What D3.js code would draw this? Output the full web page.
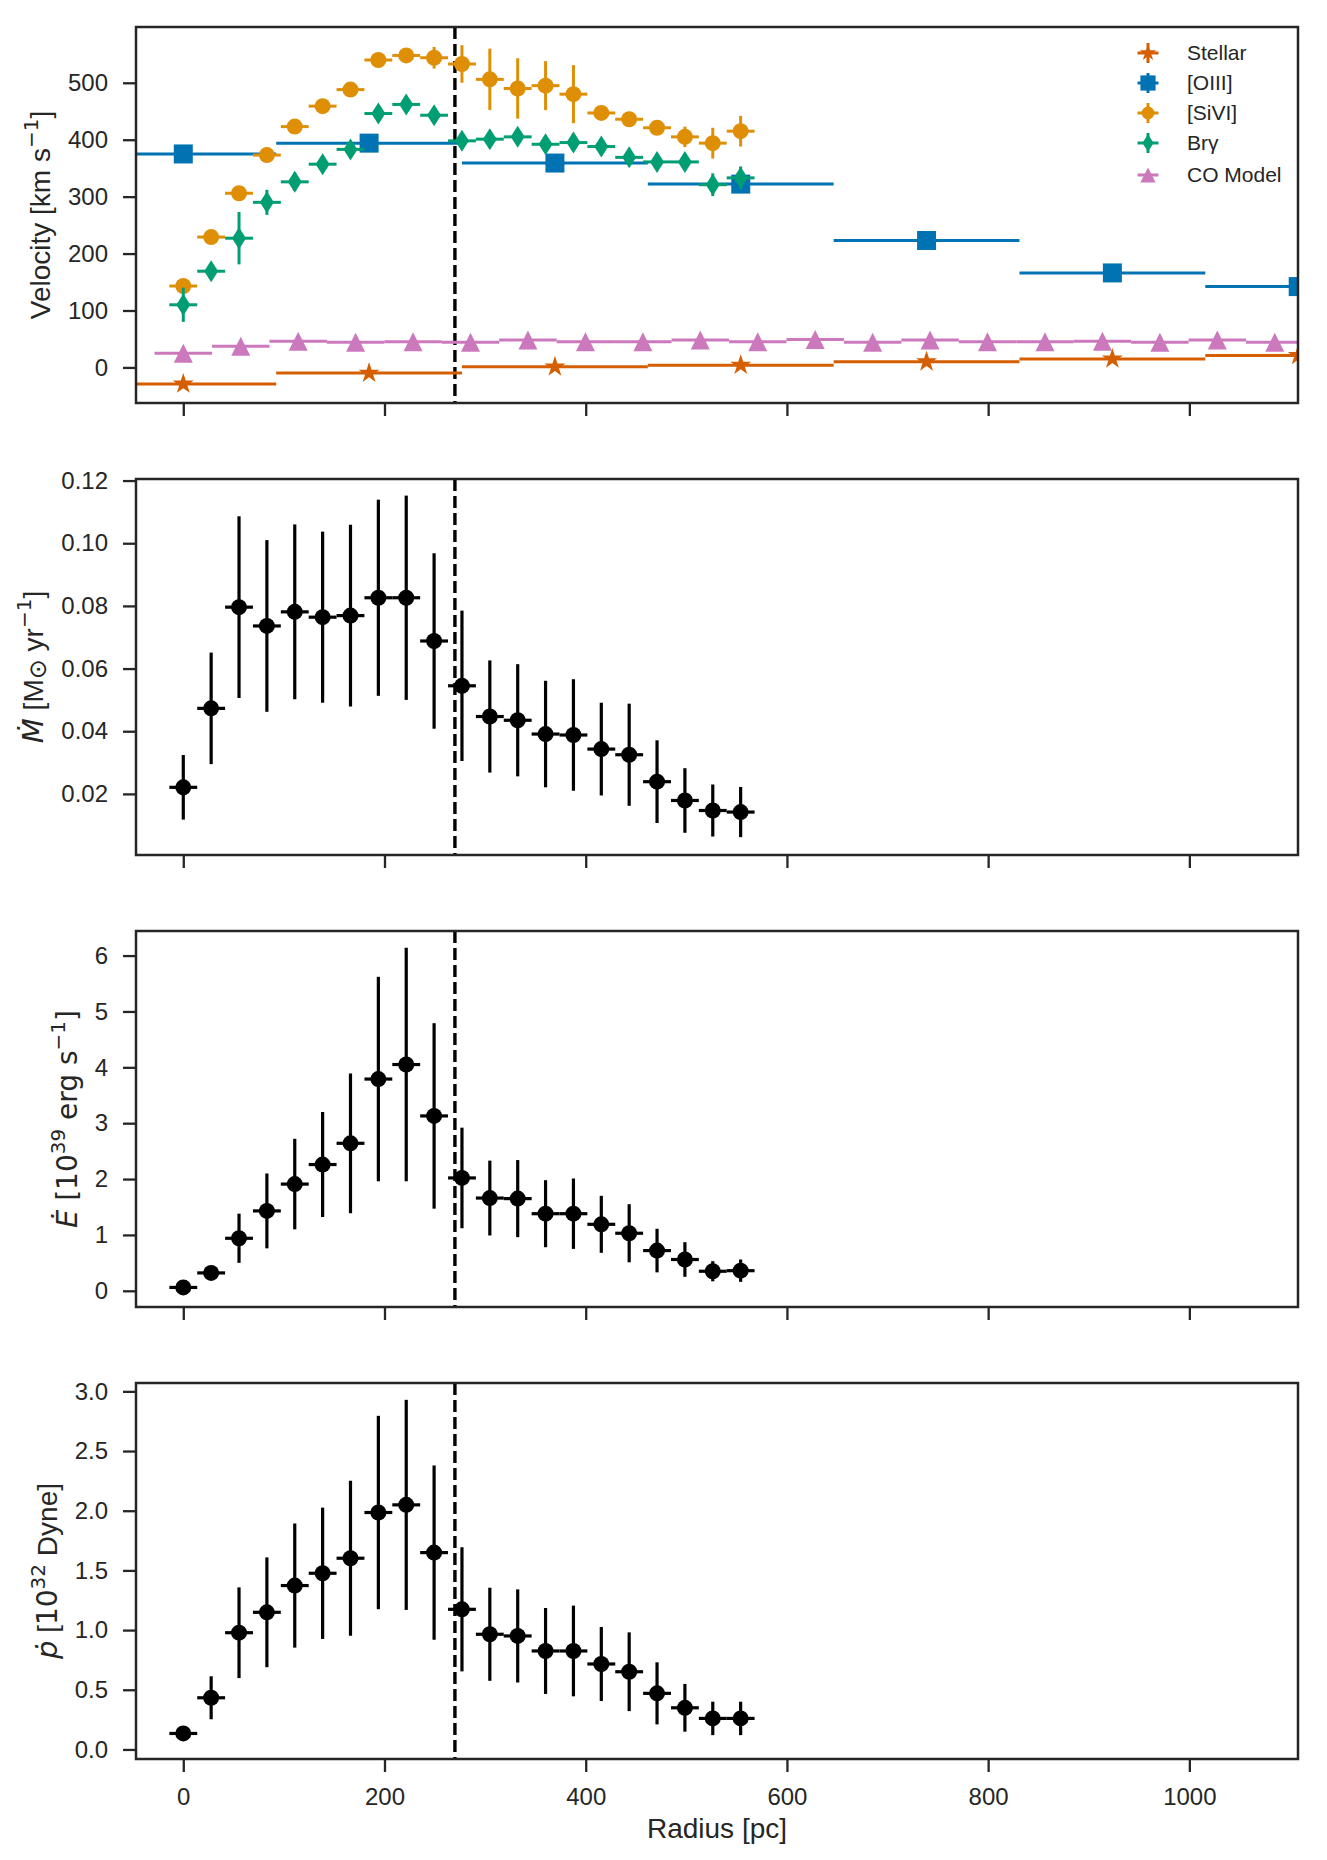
<!DOCTYPE html>
<html>
<head>
<meta charset="utf-8">
<script src="https://cdn.jsdelivr.net/npm/d3@7"></script>
<style>
  body { margin: 0; background: #fff; }
  text { font-family: "Liberation Sans", Arial, sans-serif; fill: #262626; }
</style>
</head>
<body>
<svg id="fig" width="1327" height="1860"></svg>
<script>
// ---------------- data ----------------
// radii of the outflow bins (pc)
const outflowRadius = [0, 27.7, 55.4, 83.1, 110.8, 138.5, 166.2, 193.9, 221.6, 249.3, 277.0,
    304.7, 332.4, 360.1, 387.8, 415.5, 443.2, 470.9, 498.6, 526.3, 554.0];
const outflowXErr = 13.85;

// coarse bins used for stellar and [OIII]
const binRadius = [0, 184.7, 369.4, 554.1, 738.8, 923.5, 1108.2];
const binXErr = 92.35;

// CO model bins
const coRadius = [0, 57.1, 114.2, 171.3, 228.4, 285.5, 342.6, 399.7, 456.8, 513.9, 571.0,
    628.1, 685.2, 742.3, 799.4, 856.5, 913.6, 970.7, 1027.8, 1084.9];
const coXErr = 28.55;

// velocities (km/s)
const stellarVel = [-29, -10, 1, 4, 10, 15, 21];
const oiiiVel = [375, 394, 359, 322, 223, 166, 142];
const siviVel = [143, 229, 306, 373, 423, 459, 488, 540, 548, 544, 533, 506, 490, 495, 480, 447, 436, 421, 405, 394, 415];
const siviErr = [5, 5, 6, 6, 6, 6, 6, 7, 8, 19, 33, 54, 53, 43, 51, 8, 8, 8, 18, 27, 27];
const brgVel = [110, 169, 227, 290, 326, 357, 383, 446, 462, 443, 398, 401, 405, 392, 395, 388, 369, 361, 361, 321, 333];
const brgErr = [30, 10, 46, 22, 16, 14, 14, 14, 14, 12, 12, 10, 10, 10, 10, 8, 8, 8, 8, 20, 20];
const coVel = [25, 37, 46, 44, 45, 44, 48, 45, 45, 48, 45, 49, 44, 48, 45, 45, 46, 44, 48, 44];

// mass outflow rate (Msun/yr)
const mdot = [0.0221, 0.0473, 0.0796, 0.0736, 0.0781, 0.0764, 0.0769, 0.0826, 0.0826, 0.0688, 0.0545,
    0.0447, 0.0435, 0.0391, 0.0388, 0.0343, 0.0325, 0.0239, 0.0179, 0.0147, 0.0142];
const mdotErr = [0.0103, 0.0178, 0.029, 0.0274, 0.0279, 0.0273, 0.029, 0.0313, 0.0326, 0.028, 0.024,
    0.0179, 0.0179, 0.017, 0.0178, 0.0148, 0.0163, 0.0132, 0.0103, 0.0083, 0.008];

// kinetic energy rate (1e39 erg/s)
const edot = [0.06, 0.32, 0.94, 1.43, 1.91, 2.26, 2.64, 3.79, 4.05, 3.13, 2.02, 1.66, 1.65, 1.38, 1.38, 1.19, 1.03, 0.72, 0.56, 0.35, 0.36];
const edotErr = [0.03, 0.06, 0.44, 0.67, 0.81, 0.94, 1.25, 1.83, 2.09, 1.66, 0.9, 0.67, 0.69, 0.6, 0.63, 0.51, 0.52, 0.39, 0.31, 0.18, 0.2];

// momentum rate (1e32 dyne)
const pdot = [0.134, 0.433, 0.978, 1.149, 1.373, 1.476, 1.602, 1.985, 2.049, 1.649, 1.174, 0.965, 0.951,
    0.825, 0.825, 0.716, 0.651, 0.47, 0.349, 0.26, 0.26];
const pdotErr = [0.04, 0.18, 0.38, 0.46, 0.52, 0.55, 0.65, 0.81, 0.88, 0.73, 0.52, 0.39, 0.39, 0.36, 0.38,
    0.31, 0.33, 0.26, 0.2, 0.14, 0.14];

const dashedRadius = 270;

// tick values
const xTicks = [0, 200, 400, 600, 800, 1000];
const velTicks = [0, 100, 200, 300, 400, 500];
const mdotTicks = [0.02, 0.04, 0.06, 0.08, 0.10, 0.12];
const edotTicks = [0, 1, 2, 3, 4, 5, 6];
const pdotTicks = [0.0, 0.5, 1.0, 1.5, 2.0, 2.5, 3.0];

const legendNames = ["Stellar", "[OIII]", "[SiVI]", "Br\u03b3", "CO Model"];

// ---------------- layout ----------------
const svg = d3.select("#fig");
const left = 136, right = 1298, panelH = 376;
const panelTops = [27, 479, 931, 1383];
const ink = "#262626";
const colors = {stellar: "#D55E00", oiii: "#0173B2", sivi: "#DE8F05", brg: "#029E73", co: "#CC78BC"};

const x = d3.scaleLinear().domain([-47, 1108]).range([left, right]);

// marker shapes
function circlePath(r) { return d3.symbol(d3.symbolCircle, Math.PI * r * r)(); }
function squarePath(s) { return `M${-s/2},${-s/2}h${s}v${s}h${-s}Z`; }
function trianglePath(w) { return `M0,${-w/2}L${w/2},${w/2}L${-w/2},${w/2}Z`; }
function diamondPath(w, h) { return `M0,${-h/2}L${w/2},0L0,${h/2}L${-w/2},0Z`; }
function starPath(R) {
    const pts = [];
    for (let k = 0; k < 10; k++) {
        const r = k % 2 === 0 ? R : R * 0.382;
        const a = -Math.PI / 2 + k * Math.PI / 5;
        pts.push([r * Math.cos(a), r * Math.sin(a)]);
    }
    return "M" + pts.map(p => p.join(",")).join("L") + "Z";
}

const markers = {
    stellar: starPath(11),
    oiii: squarePath(19),
    sivi: circlePath(8),
    brg: diamondPath(14, 22),
    co: trianglePath(19),
    black: circlePath(8)
};

function drawPanel(i, domain, ticks, fmt) {
    const top = panelTops[i];
    const y = d3.scaleLinear().domain(domain).range([top + panelH, top]);
    const g = svg.append("g");

    // y axis
    const ya = g.append("g")
        .attr("transform", `translate(${left},0)`)
        .call(d3.axisLeft(y).tickValues(ticks).tickFormat(d3.format(fmt)).tickSize(13).tickPadding(15));
    ya.select(".domain").remove();
    ya.selectAll("line").attr("stroke", ink).attr("stroke-width", 2.3);
    ya.selectAll("text").attr("font-size", 24).style("font-family", "'Liberation Sans', Arial, sans-serif").attr("fill", ink);

    // x axis
    const last = i === panelTops.length - 1;
    const xa = g.append("g")
        .attr("transform", `translate(0,${top + panelH})`)
        .call(d3.axisBottom(x).tickValues(xTicks).tickFormat(last ? d3.format("d") : () => "").tickSize(13).tickPadding(16));
    xa.select(".domain").remove();
    xa.selectAll("line").attr("stroke", ink).attr("stroke-width", 2.3);
    xa.selectAll("text").attr("font-size", 24).style("font-family", "'Liberation Sans', Arial, sans-serif").attr("fill", ink);

    // clip region for data
    svg.append("clipPath").attr("id", "clip" + i)
        .append("rect").attr("x", left).attr("y", top).attr("width", right - left).attr("height", panelH);
    const plot = g.append("g").attr("clip-path", `url(#clip${i})`);

    // widest tick label, for placing the y label
    let maxW = 0;
    ya.selectAll("text").each(function() { maxW = Math.max(maxW, this.getBBox().width); });
    const labelX = left - 13 - 15 - maxW - 12 - 6;

    return {g, plot, y, top, labelX};
}

function errorSeries(plot, y, xs, ys, yerr, xerr, color, shape, lw) {
    const grp = plot.append("g");
    xs.forEach((xv, k) => {
        const e = yerr ? yerr[k] : 0;
        if (e > 0) {
            grp.append("line")
                .attr("x1", x(xv)).attr("x2", x(xv))
                .attr("y1", y(ys[k] - e)).attr("y2", y(ys[k] + e))
                .attr("stroke", color).attr("stroke-width", lw);
        }
        grp.append("line")
            .attr("x1", x(xv - xerr)).attr("x2", x(xv + xerr))
            .attr("y1", y(ys[k])).attr("y2", y(ys[k]))
            .attr("stroke", color).attr("stroke-width", lw);
    });
    grp.selectAll("path.mk")
        .data(xs)
        .enter().append("path")
        .attr("class", "mk")
        .attr("d", shape)
        .attr("transform", (d, k) => `translate(${x(d)},${y(ys[k])})`)
        .attr("fill", color);
}

function dashedLine(p) {
    p.plot.append("line")
        .attr("x1", x(dashedRadius)).attr("x2", x(dashedRadius))
        .attr("y1", p.top).attr("y2", p.top + panelH)
        .attr("stroke", "#000").attr("stroke-width", 3.4)
        .attr("stroke-dasharray", "12,5");
}

function frame(p) {
    p.g.append("rect")
        .attr("x", left).attr("y", p.top)
        .attr("width", right - left).attr("height", panelH)
        .attr("fill", "none").attr("stroke", ink).attr("stroke-width", 2.5);
}

// y label built from pieces: [text, kind]
function yLabel(p, parts) {
    const t = p.g.append("text")
        .attr("transform", `translate(${p.labelX},${p.top + panelH / 2}) rotate(-90)`)
        .attr("text-anchor", "middle")
        .attr("font-size", 28);
    let shift = 0;
    parts.forEach(([s, kind]) => {
        const ts = t.append("tspan").text(s);
        let target = 0;
        if (kind === "sup") { target = -12; ts.style("font-family", "'DejaVu Sans', sans-serif").attr("font-size", 20); }
        if (kind === "sub") { target = 3; ts.style("font-family", "'DejaVu Sans', sans-serif").attr("font-size", 24); }
        if (kind === "it") { ts.style("font-family", "'DejaVu Sans', sans-serif").attr("font-style", "italic").attr("font-size", 29); }
        if (kind === "math") { ts.style("font-family", "'DejaVu Sans', sans-serif").attr("font-size", 28); }
        if (target !== shift) ts.attr("dy", target - shift);
        shift = target;
    });
}

// ---------------- panel 1: velocities ----------------
const p1 = drawPanel(0, [-62.5, 598], velTicks, "d");
dashedLine(p1);
errorSeries(p1.plot, p1.y, binRadius, stellarVel, null, binXErr, colors.stellar, markers.stellar, 3);
errorSeries(p1.plot, p1.y, binRadius, oiiiVel, null, binXErr, colors.oiii, markers.oiii, 3);
errorSeries(p1.plot, p1.y, outflowRadius, siviVel, siviErr, outflowXErr, colors.sivi, markers.sivi, 3);
errorSeries(p1.plot, p1.y, outflowRadius, brgVel, brgErr, outflowXErr, colors.brg, markers.brg, 3);
errorSeries(p1.plot, p1.y, coRadius, coVel, null, coXErr, colors.co, markers.co, 3);
frame(p1);
yLabel(p1, [["Velocity [km s", ""], ["\u22121", "sup"], ["]", ""]]);

// legend
const legendKeys = ["stellar", "oiii", "sivi", "brg", "co"];
const legendRowY = [53, 83, 113, 143, 175];
const leg = p1.g.append("g");
legendKeys.forEach((key, k) => {
    const cy = legendRowY[k], cx = 1148;
    const row = leg.append("g").attr("transform", `translate(${cx},${cy})`);
    row.append("line").attr("x1", -10.5).attr("x2", 10.5).attr("y1", 0).attr("y2", 0)
        .attr("stroke", colors[key]).attr("stroke-width", 3);
    if (key !== "co") {
        row.append("line").attr("x1", 0).attr("x2", 0).attr("y1", -10).attr("y2", 10)
            .attr("stroke", colors[key]).attr("stroke-width", 3);
    }
    row.append("path").attr("d", markers[key]).attr("fill", colors[key])
        .attr("transform", "scale(0.8)");
    leg.append("text").attr("x", 1187).attr("y", cy).attr("dy", "0.35em")
        .attr("font-size", 21).text(legendNames[k]);
});

// ---------------- panel 2: mass outflow rate ----------------
const p2 = drawPanel(1, [0.0005, 0.1205], mdotTicks, ".2f");
dashedLine(p2);
errorSeries(p2.plot, p2.y, outflowRadius, mdot, mdotErr, outflowXErr, "#000", markers.black, 3.2);
frame(p2);
yLabel(p2, [["\u1E40", "it"], [" [M", ""], ["\u2299", "sub"], [" yr", ""], ["\u22121", "sup"], ["]", ""]]);

// ---------------- panel 3: energy rate ----------------
const p3 = drawPanel(2, [-0.29, 6.44], edotTicks, "d");
dashedLine(p3);
errorSeries(p3.plot, p3.y, outflowRadius, edot, edotErr, outflowXErr, "#000", markers.black, 3.2);
frame(p3);
yLabel(p3, [["\u0116", "it"], [" [10", "math"], ["39", "sup"], [" erg s", "math"], ["\u22121", "sup"], ["]", "math"]]);

// ---------------- panel 4: momentum rate ----------------
const p4 = drawPanel(3, [-0.08, 3.07], pdotTicks, ".1f");
dashedLine(p4);
errorSeries(p4.plot, p4.y, outflowRadius, pdot, pdotErr, outflowXErr, "#000", markers.black, 3.2);
frame(p4);
yLabel(p4, [["\u1E57", "it"], [" [", ""], ["10", "math"], ["32", "sup"], [" Dyne]", ""]]);

// x label
svg.append("text")
    .attr("x", (left + right) / 2).attr("y", 1838)
    .attr("text-anchor", "middle").attr("font-size", 28)
    .text("Radius [pc]");
</script>
</body>
</html>
